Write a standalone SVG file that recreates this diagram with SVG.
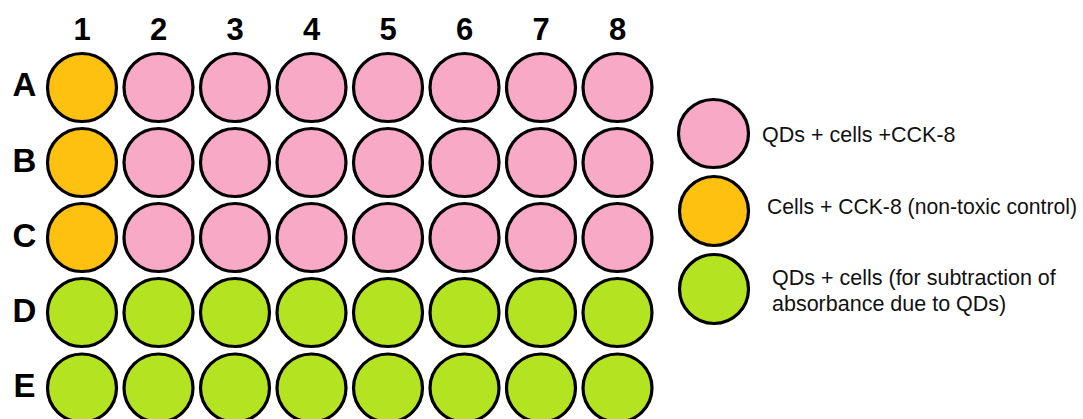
<svg xmlns="http://www.w3.org/2000/svg" width="1083" height="419" viewBox="0 0 1083 419">
<style>
.w{stroke:#000;stroke-width:3.2}
.p{fill:#F8A9C5}
.o{fill:#FEC10F}
.g{fill:#B4E322}
.lab{font-family:"Liberation Sans",Arial,sans-serif;font-weight:bold;font-size:31px;fill:#000;text-anchor:middle}
.row{font-size:33px}
.leg{font-family:"Liberation Sans",Arial,sans-serif;font-size:21.5px;fill:#111}
</style>
<rect width="1083" height="419" fill="#fff"/>
<g id="column-labels">
<text class="lab" x="82" y="40">1</text>
<text class="lab" x="158.5" y="40">2</text>
<text class="lab" x="235" y="40">3</text>
<text class="lab" x="311.5" y="40">4</text>
<text class="lab" x="388" y="40">5</text>
<text class="lab" x="464.5" y="40">6</text>
<text class="lab" x="541" y="40">7</text>
<text class="lab" x="617.5" y="40">8</text>
</g>
<g id="row-labels">
<text class="lab row" x="24.5" y="96">A</text>
<text class="lab row" x="24.5" y="171.5">B</text>
<text class="lab row" x="24.5" y="246.5">C</text>
<text class="lab row" x="24.5" y="321.5">D</text>
<text class="lab row" x="24.5" y="396.5">E</text>
</g>
<g id="plate">
<g id="row-A">
<ellipse class="w o" cx="82" cy="87.5" rx="34.5" ry="34"/>
<ellipse class="w p" cx="158.5" cy="87.5" rx="34.5" ry="34"/>
<ellipse class="w p" cx="235" cy="87.5" rx="34.5" ry="34"/>
<ellipse class="w p" cx="311.5" cy="87.5" rx="34.5" ry="34"/>
<ellipse class="w p" cx="388" cy="87.5" rx="34.5" ry="34"/>
<ellipse class="w p" cx="464.5" cy="87.5" rx="34.5" ry="34"/>
<ellipse class="w p" cx="541" cy="87.5" rx="34.5" ry="34"/>
<ellipse class="w p" cx="617.5" cy="87.5" rx="34.5" ry="34"/>
</g>
<g id="row-B">
<ellipse class="w o" cx="82" cy="162.5" rx="34.5" ry="34"/>
<ellipse class="w p" cx="158.5" cy="162.5" rx="34.5" ry="34"/>
<ellipse class="w p" cx="235" cy="162.5" rx="34.5" ry="34"/>
<ellipse class="w p" cx="311.5" cy="162.5" rx="34.5" ry="34"/>
<ellipse class="w p" cx="388" cy="162.5" rx="34.5" ry="34"/>
<ellipse class="w p" cx="464.5" cy="162.5" rx="34.5" ry="34"/>
<ellipse class="w p" cx="541" cy="162.5" rx="34.5" ry="34"/>
<ellipse class="w p" cx="617.5" cy="162.5" rx="34.5" ry="34"/>
</g>
<g id="row-C">
<ellipse class="w o" cx="82" cy="237.5" rx="34.5" ry="34"/>
<ellipse class="w p" cx="158.5" cy="237.5" rx="34.5" ry="34"/>
<ellipse class="w p" cx="235" cy="237.5" rx="34.5" ry="34"/>
<ellipse class="w p" cx="311.5" cy="237.5" rx="34.5" ry="34"/>
<ellipse class="w p" cx="388" cy="237.5" rx="34.5" ry="34"/>
<ellipse class="w p" cx="464.5" cy="237.5" rx="34.5" ry="34"/>
<ellipse class="w p" cx="541" cy="237.5" rx="34.5" ry="34"/>
<ellipse class="w p" cx="617.5" cy="237.5" rx="34.5" ry="34"/>
</g>
<g id="row-D">
<ellipse class="w g" cx="82" cy="312.5" rx="34.5" ry="34"/>
<ellipse class="w g" cx="158.5" cy="312.5" rx="34.5" ry="34"/>
<ellipse class="w g" cx="235" cy="312.5" rx="34.5" ry="34"/>
<ellipse class="w g" cx="311.5" cy="312.5" rx="34.5" ry="34"/>
<ellipse class="w g" cx="388" cy="312.5" rx="34.5" ry="34"/>
<ellipse class="w g" cx="464.5" cy="312.5" rx="34.5" ry="34"/>
<ellipse class="w g" cx="541" cy="312.5" rx="34.5" ry="34"/>
<ellipse class="w g" cx="617.5" cy="312.5" rx="34.5" ry="34"/>
</g>
<g id="row-E">
<ellipse class="w g" cx="82" cy="388" rx="34.5" ry="34"/>
<ellipse class="w g" cx="158.5" cy="388" rx="34.5" ry="34"/>
<ellipse class="w g" cx="235" cy="388" rx="34.5" ry="34"/>
<ellipse class="w g" cx="311.5" cy="388" rx="34.5" ry="34"/>
<ellipse class="w g" cx="388" cy="388" rx="34.5" ry="34"/>
<ellipse class="w g" cx="464.5" cy="388" rx="34.5" ry="34"/>
<ellipse class="w g" cx="541" cy="388" rx="34.5" ry="34"/>
<ellipse class="w g" cx="617.5" cy="388" rx="34.5" ry="34"/>
</g>
</g>
<g id="legend-pink">
<ellipse class="w p" cx="713.5" cy="133.5" rx="35" ry="34"/>
<text class="leg" x="762" y="142">QDs + cells +CCK-8</text>
</g>
<g id="legend-orange">
<ellipse class="w o" cx="714" cy="211" rx="34.5" ry="34.5"/>
<text class="leg" x="767" y="214" textLength="310" lengthAdjust="spacingAndGlyphs">Cells + CCK-8 (non-toxic control)</text>
</g>
<g id="legend-green">
<ellipse class="w g" cx="714" cy="289" rx="34.5" ry="34.5"/>
<text class="leg" x="772" y="285">QDs + cells (for subtraction of</text>
<text class="leg" x="772" y="311">absorbance due to QDs)</text>
</g>
</svg>
